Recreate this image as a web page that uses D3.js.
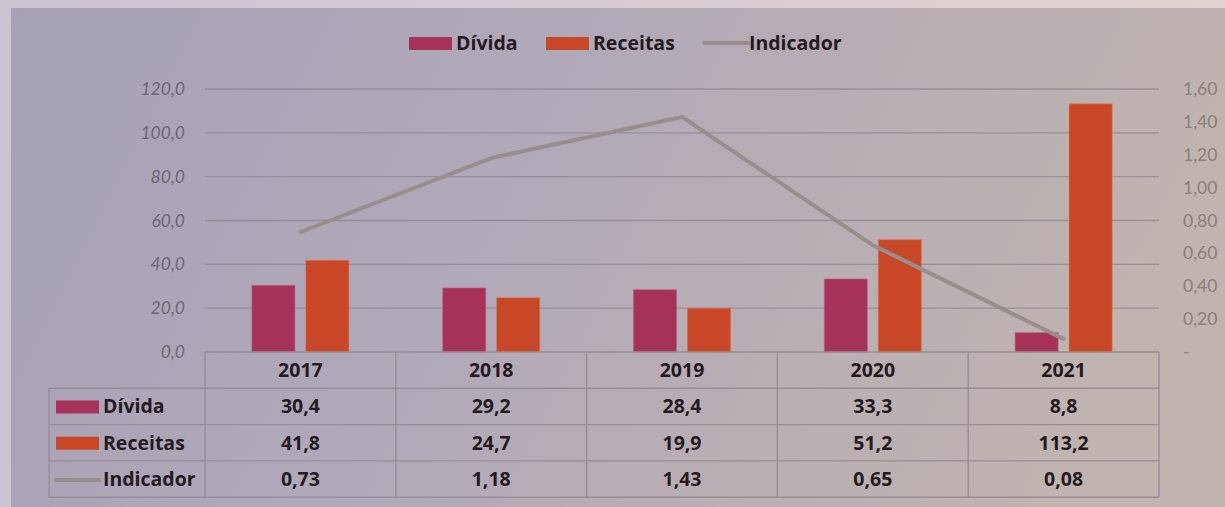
<!DOCTYPE html>
<html>
<head>
<meta charset="utf-8">
<script src="https://cdn.jsdelivr.net/npm/d3@7"></script>
<style>
  html, body { margin: 0; padding: 0; background: #cfc5d1; }
  svg { display: block; }
</style>
</head>
<body>
<svg id="chart" width="1225" height="507"></svg>
<script>
// Dívida, receitas e indicador por ano
const years = ["2017", "2018", "2019", "2020", "2021"];
const divida = [30.4, 29.2, 28.4, 33.3, 8.8];
const receitas = [41.8, 24.7, 19.9, 51.2, 113.2];
const indicador = [0.73, 1.18, 1.43, 0.65, 0.08];
const leftTicks = [0, 20, 40, 60, 80, 100, 120];
const rightTicks = [0, 0.2, 0.4, 0.6, 0.8, 1.0, 1.2, 1.4, 1.6];

const colors = { "Dívida": "#a63159", "Receitas": "#c84727", "Indicador": "#988f8c" };

const pt = d3.formatLocale({ decimal: ",", thousands: ".", grouping: [3], currency: ["", ""] });
const f1 = pt.format(".1f");
const f2 = pt.format(".2f");

const svg = d3.select("#chart");
const W = 1225, H = 507;
const boldFont = "'Open Sans', Lato, sans-serif";
const axisFont = "Lato, 'Open Sans', sans-serif";

// background panel
const defs = svg.append("defs");
const g1 = defs.append("linearGradient").attr("id", "panelGrad")
  .attr("x1", "0").attr("y1", "0").attr("x2", "1").attr("y2", "0.2");
g1.append("stop").attr("offset", "0").attr("stop-color", "#a7a1b6");
g1.append("stop").attr("offset", "0.45").attr("stop-color", "#b0a9b8");
g1.append("stop").attr("offset", "0.75").attr("stop-color", "#b9aeb3");
g1.append("stop").attr("offset", "1").attr("stop-color", "#bfb4b0");
const g2 = defs.append("linearGradient").attr("id", "frameGrad")
  .attr("x1", "0").attr("y1", "0").attr("x2", "1").attr("y2", "0");
g2.append("stop").attr("offset", "0").attr("stop-color", "#cdc4d2");
g2.append("stop").attr("offset", "1").attr("stop-color", "#e2d3d0");

svg.append("rect").attr("width", W).attr("height", H).attr("fill", "url(#frameGrad)");
svg.append("rect").attr("x", 11).attr("y", 8).attr("width", W - 11).attr("height", H - 8)
  .attr("fill", "url(#panelGrad)");

// scales
const plotLeft = 205, plotRight = 1159, plotTop = 89, plotBottom = 352;
const x = d3.scaleBand().domain(years).range([plotLeft, plotRight]);
const xs = d3.scaleBand().domain(["Dívida", "Receitas"]).range([0, x.bandwidth()])
  .paddingInner(0.204).paddingOuter(0.869);
const yL = d3.scaleLinear().domain([0, 120]).range([plotBottom, plotTop]);
const yR = d3.scaleLinear().domain([0, 1.6]).range([plotBottom, plotTop]);

// gridlines
svg.append("g").selectAll("line").data(leftTicks.filter(d => d > 0)).join("line")
  .attr("x1", plotLeft).attr("x2", plotRight)
  .attr("y1", d => yL(d)).attr("y2", d => yL(d))
  .attr("stroke", "#8d8590").attr("stroke-opacity", 0.75).attr("stroke-width", 1.3);

// left axis labels
svg.append("g").selectAll("text").data(leftTicks).join("text")
  .attr("x", 185).attr("y", d => yL(d) + 6)
  .attr("text-anchor", "end")
  .attr("font-family", axisFont)
  .attr("font-style", "italic")
  .attr("font-size", 17.5)
  .attr("fill", "#6c6675")
  .text(d => f1(d));

// right axis labels
svg.append("g").selectAll("text").data(rightTicks).join("text")
  .attr("x", 1183).attr("y", d => yR(d) + 6)
  .attr("text-anchor", "start")
  .attr("font-family", axisFont)
  .attr("font-size", 17.5)
  .attr("fill", "#8b807a")
  .text(d => d === 0 ? "-" : f2(d));

// bars
const barData = [];
years.forEach((yr, i) => {
  barData.push({ year: yr, key: "Dívida", value: divida[i] });
  barData.push({ year: yr, key: "Receitas", value: receitas[i] });
});
svg.append("g").selectAll("rect").data(barData).join("rect")
  .attr("x", d => x(d.year) + xs(d.key))
  .attr("width", xs.bandwidth())
  .attr("y", d => yL(d.value))
  .attr("height", d => yL(0) - yL(d.value))
  .attr("fill", d => colors[d.key])
  .attr("stroke", d => d.key === "Dívida" ? "#c0587c" : "#dc6a4c")
  .attr("stroke-opacity", 0.6)
  .attr("stroke-width", 1);

// indicator line
const line = d3.line()
  .x((d, i) => x(years[i]) + x.bandwidth() / 2)
  .y(d => yR(d));
svg.append("path").datum(indicador)
  .attr("d", line)
  .attr("fill", "none")
  .attr("stroke", colors["Indicador"])
  .attr("stroke-width", 4)
  .attr("stroke-linecap", "round")
  .attr("stroke-linejoin", "round");

// top legend
const legend = svg.append("g").attr("font-family", boldFont)
  .attr("font-weight", "bold").attr("font-size", 19.5).attr("fill", "#241a20");
const legendItems = [
  { key: "Dívida", x: 409 },
  { key: "Receitas", x: 546 },
  { key: "Indicador", x: 702 }
];
legendItems.forEach(it => {
  if (it.key === "Indicador") {
    legend.append("line").attr("x1", it.x + 2).attr("x2", it.x + 46)
      .attr("y1", 43).attr("y2", 43)
      .attr("stroke", colors[it.key]).attr("stroke-width", 4).attr("stroke-linecap", "round");
  } else {
    legend.append("rect").attr("x", it.x).attr("y", 37).attr("width", 43).attr("height", 13)
      .attr("fill", colors[it.key]);
  }
  legend.append("text").attr("x", it.x + 47).attr("y", 50).text(it.key);
});

// data table
const rowTop = 352, rowH = 36.3;
const tableLeft = 49;
const table = svg.append("g");
const border = "#978e95";

// horizontal lines
table.append("line").attr("x1", plotLeft).attr("x2", plotRight)
  .attr("y1", rowTop).attr("y2", rowTop).attr("stroke", border).attr("stroke-width", 1.4);
for (let r = 1; r <= 4; r++) {
  const yy = rowTop + r * rowH;
  table.append("line").attr("x1", tableLeft).attr("x2", plotRight)
    .attr("y1", yy).attr("y2", yy).attr("stroke", border).attr("stroke-width", 1.4);
}
// vertical lines
table.append("line").attr("x1", tableLeft).attr("x2", tableLeft)
  .attr("y1", rowTop + rowH).attr("y2", rowTop + 4 * rowH).attr("stroke", border).attr("stroke-width", 1.4);
[...years.map(d => x(d)), plotRight].forEach(xx => {
  table.append("line").attr("x1", xx).attr("x2", xx)
    .attr("y1", rowTop).attr("y2", rowTop + 4 * rowH).attr("stroke", border).attr("stroke-width", 1.4);
});

const tText = table.append("g").attr("font-family", boldFont)
  .attr("font-weight", "bold").attr("font-size", 19.5).attr("fill", "#231a1f");

// header row
tText.selectAll("text.yr").data(years).join("text").attr("class", "yr")
  .attr("x", d => x(d) + x.bandwidth() / 2).attr("y", rowTop + rowH / 2 + 7)
  .attr("text-anchor", "middle").text(d => d);

const rows = [
  { key: "Dívida", values: divida, fmt: f1 },
  { key: "Receitas", values: receitas, fmt: f1 },
  { key: "Indicador", values: indicador, fmt: f2 }
];
rows.forEach((row, r) => {
  const cy = rowTop + (r + 1) * rowH + rowH / 2;
  if (row.key === "Indicador") {
    table.append("line").attr("x1", 56).attr("x2", 99).attr("y1", cy + 1).attr("y2", cy + 1)
      .attr("stroke", colors[row.key]).attr("stroke-width", 4).attr("stroke-linecap", "round");
  } else {
    table.append("rect").attr("x", 56).attr("y", cy - 6).attr("width", 43).attr("height", 13)
      .attr("fill", colors[row.key]);
  }
  tText.append("text").attr("x", 103).attr("y", cy + 7).text(row.key);
  tText.selectAll(null).data(row.values).join("text")
    .attr("x", (d, i) => x(years[i]) + x.bandwidth() / 2).attr("y", cy + 7)
    .attr("text-anchor", "middle").text(d => row.fmt(d));
});
</script>
</body>
</html>
